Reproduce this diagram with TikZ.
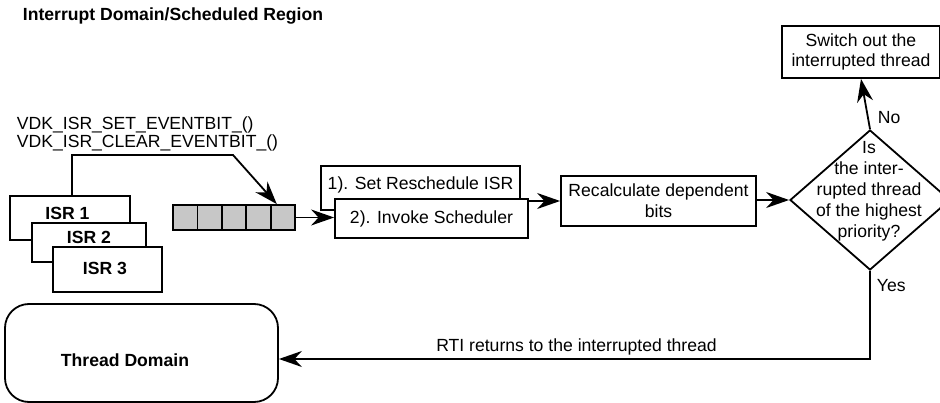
\documentclass[tikz,border=0pt]{standalone}
\usepackage{fontspec}
\setmainfont{Liberation Sans}
\usetikzlibrary{arrows.meta,shapes.geometric,calc}
\tikzset{flow/.style={-{Stealth[length=23pt,width=16pt]}}}
\begin{document}
\begin{tikzpicture}[x=1pt,y=-1pt,line width=1.8pt,
  font=\fontsize{17.6}{21}\selectfont,
  box/.style={draw,fill=white,inner sep=0pt},
  cell/.style={draw,fill=black!22,inner sep=0pt,minimum width=24.4pt,minimum height=25pt},
  txt/.style={inner sep=0pt},
  btxt/.style={inner sep=0pt,font=\fontsize{17.6}{21}\selectfont\bfseries}]
\useasboundingbox (0,0) rectangle (940,403);

% title
\node[btxt,anchor=base west] (title) at (22,21) {Interrupt Domain/Scheduled Region};

% API text
\node[txt,anchor=base west,align=left,font=\fontsize{17.6}{18}\selectfont] (api) at (16,148)
  {VDK\_ISR\_SET\_EVENTBIT\_()\\VDK\_ISR\_CLEAR\_EVENTBIT\_()};

% ISR boxes
\node[box,minimum width=120pt,minimum height=44pt] (isr1) at (70,218) {};
\node[btxt] (isr1t) at (67.5,213) {ISR 1};
\node[box,minimum width=114pt,minimum height=39pt] (isr2) at (89,242.5) {};
\node[btxt] (isr2t) at (89,237) {ISR 2};
\node[box,minimum width=109pt,minimum height=45pt] (isr3) at (107.5,269.5) {};
\node[btxt] (isr3t) at (105,268) {ISR 3};

% queue
\foreach \i in {1,...,5}{
  \node[cell] (q\i) at ({173+12.2+24.4*(\i-1)},217.5) {};
}

% scheduler boxes
\node[box,minimum width=199pt,minimum height=44pt] (box1) at (420.5,188) {};
\node[txt] (box1t) at (420.5,185) {1). Set Reschedule ISR};
\node[box,minimum width=193pt,minimum height=39pt] (box2) at (431.5,218.5) {2). Invoke Scheduler};

% recalculate
\node[box,minimum width=195pt,minimum height=50pt,align=center] (recalc) at (658.5,201)
  {Recalculate dependent\\bits};

% decision
\node[draw,diamond,fill=white,inner sep=0pt,minimum width=160pt,minimum height=140pt] (dec) at (870,200) {};
\node[txt,align=center] (dect) at (869,191) {Is\\the inter-\\rupted thread\\of the highest\\priority?};

% switch out
\node[box,minimum width=158pt,minimum height=52pt,align=center,font=\fontsize{17.6}{20}\selectfont] (sw) at (861,52)
  {Switch out the\\interrupted thread};

% thread domain
\node[draw,rounded corners=24pt,minimum width=273pt,minimum height=98pt,inner sep=0pt] (thread) at (141.5,353) {};
\node[btxt] (threadt) at (125,360) {Thread Domain};

% connectors
\coordinate (bend1) at (233,155);
\draw[flow] ($(isr1.north)+(2,0)$) |- (bend1) -- ($(q5.north)+(-6,0)$);
\draw[flow] (q5.east) -- (q5.east -| box2.west);
\draw[flow] (box2.east |- recalc.west) -- (recalc.west);
\draw[flow] (recalc.east |- dec.west) -- (dec.west);
\draw[flow] (dec.north) -- (sw.south);
\coordinate (corner) at (870,359);
\draw[flow] (dec.south) -- (corner) -- (corner -| thread.east);

% labels
\node[txt,anchor=base west] (nolab) at (877,124) {No};
\node[txt,anchor=base west] (yeslab) at (876,292) {Yes};
\node[txt,anchor=base] (rtilab) at (576.5,352) {RTI returns to the interrupted thread};
\end{tikzpicture}
\end{document}
